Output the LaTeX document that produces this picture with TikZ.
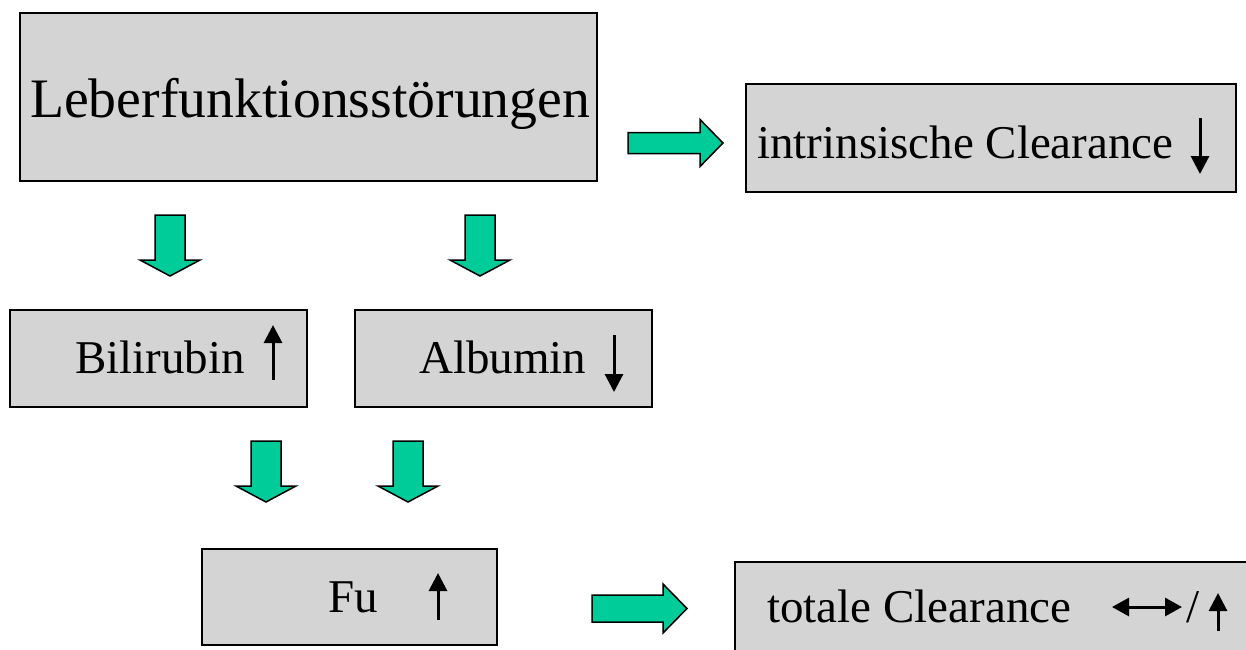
\documentclass[tikz,border=0pt]{standalone}
\usepackage{fontspec}
\setmainfont{Liberation Serif}
\usetikzlibrary{arrows.meta}
\definecolor{boxgray}{RGB}{212,212,212}
\definecolor{agreen}{RGB}{0,204,153}
\begin{document}
\begin{tikzpicture}[x=1pt,y=-1pt,
  box/.style n args={2}{draw=black, line width=1.5pt, fill=boxgray, inner sep=0pt,
    minimum width=#1, minimum height=#2},
  lbl/.style={inner sep=0pt, anchor=base west, font=\fontsize{47}{50}\selectfont},
  biglbl/.style={inner sep=0pt, anchor=base west, font=\fontsize{55.7}{60}\selectfont},
  garrow/.style={draw=black, line width=1.5pt, fill=agreen, line join=miter},
  tarr/.style={line width=3pt, -{Triangle[length=18pt,width=18pt]}},
  tdarr/.style={line width=3pt, {Triangle[length=17pt,width=18pt]}-{Triangle[length=17pt,width=18pt]}},
  pics/downarr/.style={code={\draw[garrow] (-15,0) -- (15,0) -- (15,45) -- (30,45) -- (0,61) -- (-30,45) -- (-15,45) -- cycle;}},
  pics/rarr/.style n args={4}{code={\draw[garrow] (0,-#1) -- (#3,-#1) -- (#3,-#2) -- (#4,0) -- (#3,#2) -- (#3,#1) -- (0,#1) -- cycle;}}
]
\useasboundingbox (0,0) rectangle (1246,649);
\fill[white] (0,0) rectangle (1246,649);

% boxes
\node[box={577}{168}] (leber) at (308.5,97) {};
\node[box={490}{108}] (intr) at (991,138) {};
\node[box={297}{97}] (bili) at (158.5,358.5) {};
\node[box={297}{97}] (albu) at (503.5,358.5) {};
\node[box={295}{96}] (fu) at (349.5,597) {};
\node[box={525}{108}] (tot) at (997.5,616) {};

% texts
\node[biglbl] (leberT) at (30,117) {Leberfunktionsstörungen};
\node[lbl] (intrT) at (757,158) {intrinsische Clearance};
\node[lbl] (biliT) at (75,373) {Bilirubin};
\node[lbl] (albuT) at (419,373) {Albumin};
\node[lbl] (fuT) at (328,612) {Fu};
\node[lbl] (totT) at (767,622) {totale Clearance};
\node[lbl] (slash) at (1186,622) {/};

% small arrows inside the boxes
\draw[tarr] (1200,118) -- (1200,174);
\draw[tarr] (273,380) -- (273,325);
\draw[tarr] (614,335) -- (614,392);
\draw[tarr] (438,620) -- (438,573);
\draw[tdarr] (1112,607) -- (1182,607);
\draw[tarr] (1218,631) -- (1218,593);

% green block arrows
\pic at (628,143) {rarr={10.5}{23.5}{72}{95}};
\pic at (170,215) {downarr};
\pic at (480,215) {downarr};
\pic at (266,441) {downarr};
\pic at (408,441) {downarr};
\pic at (592,608.5) {rarr={13.5}{24.5}{71}{95}};
\end{tikzpicture}
\end{document}
